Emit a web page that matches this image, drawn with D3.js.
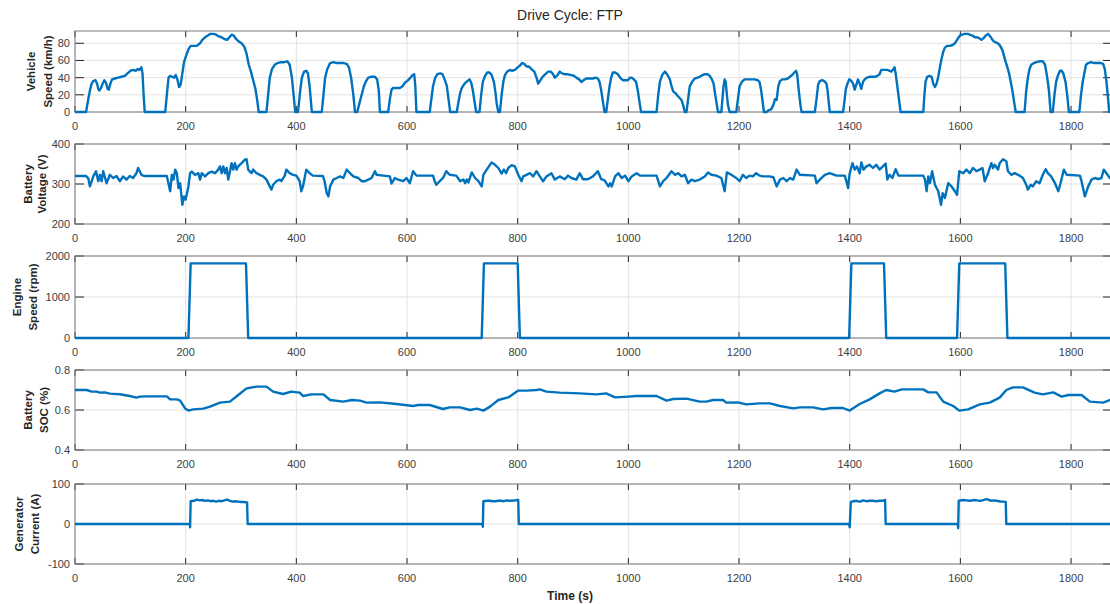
<!DOCTYPE html>
<html><head><meta charset="utf-8">
<script src="https://cdn.jsdelivr.net/npm/d3@7"></script>
<style>
html,body{margin:0;padding:0;background:#fff;}
svg{display:block;font-family:"Liberation Sans",Arial,Helvetica,sans-serif;}
</style></head>
<body><svg id="c" width="1110" height="604"></svg>
<script>
const titleText = "Drive Cycle: FTP";
const xLabelText = "Time (s)";
const xTicks = [0,200,400,600,800,1000,1200,1400,1600,1800];

const speedPts = [[0,0],[20,0],[24,15],[27,25],[30,33],[33,36],[37,37],[40,33],[42,27],[44,25],[47,28],[50,33],[53,37],[56,34],[59,27],[61,26],[64,33],[67,38],[72,39],[78,40],[84,41],[90,42],[95,45],[100,48],[105,49],[110,48],[113,50],[116,49],[120,52],[122,45],[124,20],[126,0],
[163,0],[166,20],[169,40],[172,42],[176,41],[179,40],[182,43],[185,38],[188,29],[191,32],[194,45],[197,58],[201,66],[205,73],[209,77],[214,77],[220,77],[226,80],[230,84],[235,87],[240,89],[245,91],[250,91],[255,90],[260,88],[265,87],[270,85],[275,84],[279,87],[283,90],[287,89],[291,85],[296,82],[301,80],[306,76],[310,68],[314,55],[318,47],[322,37],[326,27],[329,15],[332,0],
[346,0],[349,20],[352,40],[356,50],[361,55],[366,57],[372,58],[378,58],[384,59],[388,55],[392,40],[395,20],[398,0],
[403,0],[407,25],[410,40],[414,47],[418,48],[421,45],[424,30],[428,0],
[446,0],[449,20],[452,40],[456,50],[461,57],[467,58],[473,57],[479,57],[485,57],[491,56],[495,52],[499,40],[503,20],[506,0],
[510,0],[514,10],[518,20],[522,30],[526,36],[530,40],[536,41],[542,41],[546,38],[549,25],[551,0],
[566,0],[569,15],[572,26],[575,28],[581,28],[587,28],[592,30],[596,34],[600,36],[605,39],[610,43],[613,44],[615,30],[617,0],
[641,0],[644,15],[647,30],[651,40],[655,44],[660,45],[664,44],[668,38],[672,30],[675,15],[678,0],
[690,0],[693,12],[696,22],[699,28],[704,33],[709,36],[713,38],[716,34],[719,25],[722,12],[725,0],
[731,0],[734,20],[737,35],[741,42],[745,46],[749,46],[753,43],[757,35],[760,22],[762,10],[765,0],
[768,0],[771,20],[774,35],[777,43],[781,47],[786,49],[790,48],[795,49],[800,52],[804,54],[808,57],[812,56],[816,53],[820,53],[825,50],[830,47],[834,40],[837,33],[840,36],[845,41],[850,44],[855,47],[860,47],[864,44],[867,40],[872,43],[876,47],[880,45],[885,44],[890,44],[897,43],[902,42],[906,40],[911,38],[915,35],[919,37],[924,39],[930,39],[936,39],[941,40],[945,39],[948,35],[951,25],[954,12],[957,0],
[960,0],[963,15],[966,30],[969,40],[972,46],[976,46],[981,44],[985,40],[990,37],[995,37],[999,37],[1003,40],[1006,40],[1010,38],[1014,35],[1017,25],[1020,12],[1023,0],
[1051,0],[1054,20],[1057,35],[1061,43],[1066,47],[1070,44],[1075,38],[1078,30],[1081,24],[1085,22],[1090,18],[1093,16],[1096,14],[1099,8],[1102,0],
[1105,0],[1108,15],[1111,30],[1115,35],[1120,39],[1125,40],[1129,41],[1134,43],[1138,44],[1143,44],[1147,42],[1151,38],[1154,33],[1157,20],[1160,8],[1162,0],
[1168,0],[1170,15],[1172,30],[1174,38],[1176,35],[1178,20],[1180,8],[1183,0],
[1195,0],[1198,15],[1201,30],[1205,35],[1210,38],[1216,38],[1222,38],[1228,38],[1234,37],[1237,35],[1240,25],[1243,10],[1245,0],
[1250,0],[1253,2],[1258,3],[1262,8],[1265,15],[1268,14],[1271,30],[1274,36],[1278,38],[1283,38],[1288,39],[1292,41],[1296,43],[1300,46],[1303,48],[1305,44],[1308,25],[1311,8],[1313,0],
[1337,0],[1340,15],[1343,32],[1346,36],[1350,37],[1354,36],[1358,33],[1360,25],[1362,12],[1364,0],
[1388,0],[1391,15],[1393,27],[1396,33],[1399,38],[1402,37],[1406,33],[1409,26],[1412,32],[1415,38],[1418,33],[1421,27],[1424,35],[1427,38],[1431,40],[1436,41],[1441,41],[1446,41],[1450,42],[1454,44],[1457,49],[1462,49],[1468,49],[1472,48],[1475,47],[1478,49],[1481,52],[1483,45],[1486,30],[1489,15],[1492,0],
[1533,0],[1535,20],[1537,35],[1540,41],[1544,42],[1548,41],[1551,33],[1554,29],[1557,33],[1560,41],[1563,52],[1566,62],[1569,70],[1572,75],[1576,77],[1581,77],[1586,78],[1590,80],[1594,84],[1599,89],[1603,90],[1608,91],[1613,91],[1617,90],[1622,89],[1626,87],[1630,87],[1634,86],[1638,84],[1642,86],[1646,89],[1650,91],[1654,88],[1659,83],[1664,81],[1668,80],[1672,77],[1676,72],[1679,65],[1682,58],[1685,52],[1688,45],[1691,35],[1694,25],[1697,12],[1700,0],
[1716,0],[1719,25],[1722,40],[1725,50],[1728,55],[1733,57],[1737,58],[1743,59],[1749,59],[1753,55],[1757,40],[1760,25],[1763,0],
[1767,0],[1770,20],[1773,35],[1776,42],[1780,48],[1783,48],[1786,45],[1790,35],[1793,20],[1796,0],
[1815,0],[1818,20],[1821,35],[1824,45],[1827,55],[1831,57],[1836,58],[1842,57],[1848,57],[1854,57],[1858,56],[1861,50],[1864,35],[1867,15],[1869,0],[1874,0]];

const voltagePts = [[0,320],[20,320],[24,314],[27,294],[33,319],[38,332],[42,307],[45,323],[48,307],[51,332],[57,302],[63,323],[69,315],[75,320],[81,307],[87,319],[93,311],[99,320],[105,315],[111,327],[114,340],[120,323],[125,320],[166,320],[168,307],[172,282],[175,323],[178,311],[181,336],[184,327],[187,290],[190,302],[194,248],[197,269],[200,261],[205,294],[208,327],[211,331],[217,323],[223,327],[226,311],[229,327],[235,319],[241,327],[247,331],[253,327],[259,336],[262,344],[265,327],[268,344],[271,327],[274,340],[277,311],[280,331],[283,352],[286,336],[289,352],[292,336],[295,344],[301,352],[307,361],[310,362],[313,336],[319,327],[322,336],[328,327],[334,323],[340,319],[346,311],[352,294],[355,286],[358,298],[364,307],[370,311],[373,307],[379,321],[382,336],[388,327],[394,323],[400,321],[406,307],[409,282],[412,294],[418,336],[424,327],[430,321],[448,320],[451,307],[455,277],[458,269],[461,294],[467,311],[473,315],[479,319],[485,315],[491,336],[497,327],[503,319],[512,315],[518,307],[524,307],[530,311],[536,315],[542,332],[545,323],[557,321],
[569,319],[572,301],[578,315],[584,311],[593,307],[599,315],[605,302],[611,332],[617,321],[647,321],[650,307],[653,298],[659,307],[665,315],[671,332],[677,323],[689,321],[696,307],[702,311],[705,302],[708,311],[711,304],[717,329],[723,315],[729,307],[735,294],[738,323],[744,336],[753,354],[759,348],[765,340],[771,326],[775,336],[779,327],[783,340],[789,347],[795,344],[801,323],[807,307],[810,319],[816,323],[822,327],[828,319],[834,332],[840,319],[846,307],[852,319],[861,327],[867,311],[876,319],[885,312],[891,321],[897,315],[906,311],[912,327],[918,312],[927,312],[936,319],[945,332],[951,312],[957,309],[964,294],[967,302],[970,294],[976,319],[982,327],[988,315],[994,321],[1000,307],[1006,319],[1015,327],[1021,321],[1051,321],[1057,294],[1063,307],[1069,315],[1078,332],[1084,323],[1090,327],[1096,319],[1102,323],[1108,302],[1114,311],[1120,307],[1129,311],[1138,319],[1144,329],[1150,323],[1159,321],[1168,315],[1174,282],[1178,329],[1186,323],[1195,315],[1201,307],[1207,323],[1213,315],[1219,321],[1225,319],[1231,327],[1237,321],[1243,319],[1255,319],[1262,317],[1268,294],
[1274,311],[1280,315],[1286,307],[1292,315],[1298,311],[1304,336],[1310,323],[1337,321],[1340,302],[1346,311],[1355,323],[1364,327],[1376,321],[1391,321],[1394,307],[1397,290],[1400,327],[1405,352],[1409,336],[1413,344],[1418,327],[1421,354],[1425,336],[1430,344],[1436,348],[1442,340],[1448,348],[1454,336],[1460,344],[1465,351],[1468,311],[1472,323],[1477,315],[1483,337],[1488,321],[1533,321],[1536,311],[1539,282],[1542,319],[1545,302],[1549,332],[1554,298],[1560,282],[1565,248],[1568,277],[1572,265],[1578,302],[1584,294],[1590,282],[1594,273],[1598,332],[1605,327],[1611,336],[1617,327],[1623,340],[1629,332],[1635,336],[1640,340],[1644,307],[1650,327],[1656,352],[1659,340],[1662,348],[1668,336],[1671,352],[1677,362],[1683,357],[1686,332],[1692,323],[1698,327],[1707,321],[1713,315],[1719,298],[1722,286],[1727,298],[1731,294],[1737,307],[1743,302],[1749,323],[1754,337],[1758,327],[1764,319],[1771,302],[1777,282],[1781,302],[1787,336],[1792,323],[1816,321],[1819,307],[1825,269],[1831,294],[1837,311],[1843,315],[1849,312],[1855,315],[1859,336],[1864,327],[1870,315],[1874,315]];

const enginePts = [[0,0],[205,0],[209,1820],[309,1820],[313,0],[735,0],[739,1820],[800,1820],[804,0],[1399,0],[1403,1820],[1462,1820],[1466,0],[1594,0],[1598,1820],[1681,1820],[1685,0],[1874,0]];

const socPts = [[0,0.70],[21,0.70],[30,0.692],[39,0.692],[45,0.687],[54,0.688],[63,0.682],[81,0.679],[99,0.67],[111,0.662],[117,0.667],[129,0.668],[166,0.668],[172,0.653],[184,0.653],[190,0.647],[199,0.608],[205,0.597],[214,0.603],[232,0.607],[244,0.617],[262,0.637],[280,0.642],[295,0.675],[310,0.708],[328,0.717],[346,0.717],[358,0.692],[376,0.68],[391,0.692],[406,0.687],[412,0.67],[427,0.678],[449,0.678],[461,0.65],[485,0.642],[500,0.65],[515,0.647],[527,0.637],[551,0.638],[581,0.63],[611,0.62],[620,0.625],[641,0.625],[665,0.605],[677,0.613],[696,0.613],[714,0.6],[726,0.607],[738,0.597],[750,0.617],[765,0.65],[783,0.663],[801,0.697],[816,0.697],[834,0.70],[840,0.703],[852,0.692],[876,0.687],[912,0.683],[942,0.678],[960,0.683],[976,0.663],[1000,0.667],[1015,0.67],[1051,0.67],[1069,0.647],[1081,0.655],[1105,0.657],[1129,0.642],[1141,0.642],[1153,0.65],[1171,0.65],[1177,0.637],[1198,0.638],[1213,0.628],[1237,0.633],[1256,0.633],[1274,0.62],[1298,0.608],[1310,0.613],[1334,0.613],[1352,0.603],[1367,0.61],[1388,0.61],[1400,0.597],[1418,0.63],[1436,0.653],[1454,0.683],[1466,0.70],[1481,0.692],[1494,0.703],[1533,0.703],[1542,0.688],[1557,0.688],[1569,0.642],[1587,0.62],[1598,0.597],[1614,0.603],[1635,0.628],[1653,0.637],[1671,0.662],[1683,0.70],[1695,0.713],[1713,0.713],[1734,0.687],[1749,0.678],[1768,0.688],[1783,0.667],[1795,0.675],[1819,0.675],[1834,0.642],[1858,0.637],[1870,0.65],[1874,0.65]];

const currentPts = [[0,0],[207,0],[208,-8],[209,57],[215,58],[220,61],[225,59],[230,60],[235,58],[240,59],[245,57],[250,58],[255,56],[260,58],[265,57],[270,59],[275,61],[280,58],[285,56],[290,57],[295,56],[300,55],[305,55],[310,54],[311,54],[312,0],
[736,0],[737,-7],[738,57],[745,58],[750,58],[755,57],[760,57],[765,58],[770,58],[775,57],[780,59],[785,58],[790,58],[795,59],[800,60],[801,60],[802,0],
[1399,0],[1400,-8],[1402,55],[1407,57],[1412,58],[1417,56],[1421,57],[1424,59],[1430,57],[1436,58],[1442,58],[1448,57],[1454,58],[1460,58],[1463,60],[1464,60],[1465,0],
[1595,0],[1596,-10],[1597,58],[1605,60],[1611,59],[1617,58],[1626,60],[1630,59],[1635,58],[1640,59],[1644,61],[1647,62],[1652,60],[1656,58],[1660,59],[1665,58],[1670,57],[1674,56],[1678,56],[1682,55],[1683,0],[1874,0]];

const panels = [
  {data: speedPts, yDomain:[0,94.3], yTicks:[0,20,40,60,80], fmt:d=>d, lines:["Vehicle","Speed (km/h)"], top:31, bottom:112, lx:[35,52]},
  {data: voltagePts, yDomain:[200,400], yTicks:[200,300,400], fmt:d=>d, lines:["Battery","Voltage (V)"], top:144, bottom:224, lx:[32,46]},
  {data: enginePts, yDomain:[0,2000], yTicks:[0,1000,2000], fmt:d=>d, lines:["Engine","Speed (rpm)"], top:256, bottom:338, lx:[21,37]},
  {data: socPts, yDomain:[0.4,0.8], yTicks:[0.4,0.6,0.8], fmt:d=>d.toFixed(1), lines:["Battery","SOC (%)"], top:370, bottom:450, lx:[32,48]},
  {data: currentPts, yDomain:[-100,100], yTicks:[-100,0,100], fmt:d=>d, lines:["Generator","Current (A)"], top:484, bottom:564, lx:[23,39]}
];

const svg = d3.select("#c");
const left = 75, right = 1112;
const x = d3.scaleLinear().domain([0,1874]).range([left,right]);
const blue = "#0072BD";
const axisCol = "#262626";

svg.append("text").attr("x",570).attr("y",20).attr("text-anchor","middle")
  .attr("font-size",14).attr("fill","#262626").text(titleText);

panels.forEach((p,i)=>{
  const y = d3.scaleLinear().domain(p.yDomain).range([p.bottom,p.top]);
  const g = svg.append("g");
  // grid
  g.selectAll(".gx").data(xTicks).enter().append("line")
    .attr("x1",d=>x(d)).attr("x2",d=>x(d)).attr("y1",p.top).attr("y2",p.bottom)
    .attr("stroke","#e3e3e3").attr("stroke-width",1);
  g.selectAll(".gy").data(p.yTicks).enter().append("line")
    .attr("x1",left).attr("x2",right).attr("y1",d=>y(d)).attr("y2",d=>y(d))
    .attr("stroke","#e3e3e3").attr("stroke-width",1);
  // ticks
  g.selectAll(".tb").data(xTicks).enter().append("line")
    .attr("x1",d=>x(d)).attr("x2",d=>x(d)).attr("y1",p.bottom).attr("y2",p.bottom-6)
    .attr("stroke",axisCol).attr("stroke-width",1);
  g.selectAll(".tt").data(xTicks).enter().append("line")
    .attr("x1",d=>x(d)).attr("x2",d=>x(d)).attr("y1",p.top).attr("y2",p.top+6)
    .attr("stroke",axisCol).attr("stroke-width",1);
  g.selectAll(".tl").data(p.yTicks).enter().append("line")
    .attr("x1",left).attr("x2",left+9).attr("y1",d=>y(d)).attr("y2",d=>y(d))
    .attr("stroke",axisCol).attr("stroke-width",1);
  g.selectAll(".tr").data(p.yTicks).enter().append("line")
    .attr("x1",right).attr("x2",right-9).attr("y1",d=>y(d)).attr("y2",d=>y(d))
    .attr("stroke",axisCol).attr("stroke-width",1);
  // box
  g.append("rect").attr("x",left).attr("y",p.top).attr("width",right-left).attr("height",p.bottom-p.top)
    .attr("fill","none").attr("stroke","#7a7a7a").attr("stroke-width",1);
  // tick labels
  g.selectAll(".xl").data(xTicks).enter().append("text")
    .attr("x",d=>x(d)).attr("y",p.bottom+18).attr("text-anchor","middle")
    .attr("font-size",11).attr("fill","#404040").text(d=>d);
  g.selectAll(".yl").data(p.yTicks).enter().append("text")
    .attr("x",left-5).attr("y",d=>y(d)+4).attr("text-anchor","end")
    .attr("font-size",11).attr("fill","#404040").text(p.fmt);
  // y label
  const cy = (p.top+p.bottom)/2;
  p.lines.forEach((t,k)=>{
    g.append("text").attr("transform",`translate(${p.lx[k]},${cy}) rotate(-90)`)
      .attr("text-anchor","middle").attr("font-size",11.5).attr("font-weight","bold")
      .attr("fill","#262626").text(t);
  });
  // line
  const line = d3.line().x(d=>x(d[0])).y(d=>y(d[1]));
  g.append("path").datum(p.data).attr("d",line).attr("fill","none")
    .attr("stroke",blue).attr("stroke-width",2.4).attr("stroke-linejoin","round");
});

svg.append("text").attr("x",570).attr("y",600).attr("text-anchor","middle")
  .attr("font-size",12).attr("font-weight","bold").attr("fill","#262626").text(xLabelText);
</script>
</body></html>
